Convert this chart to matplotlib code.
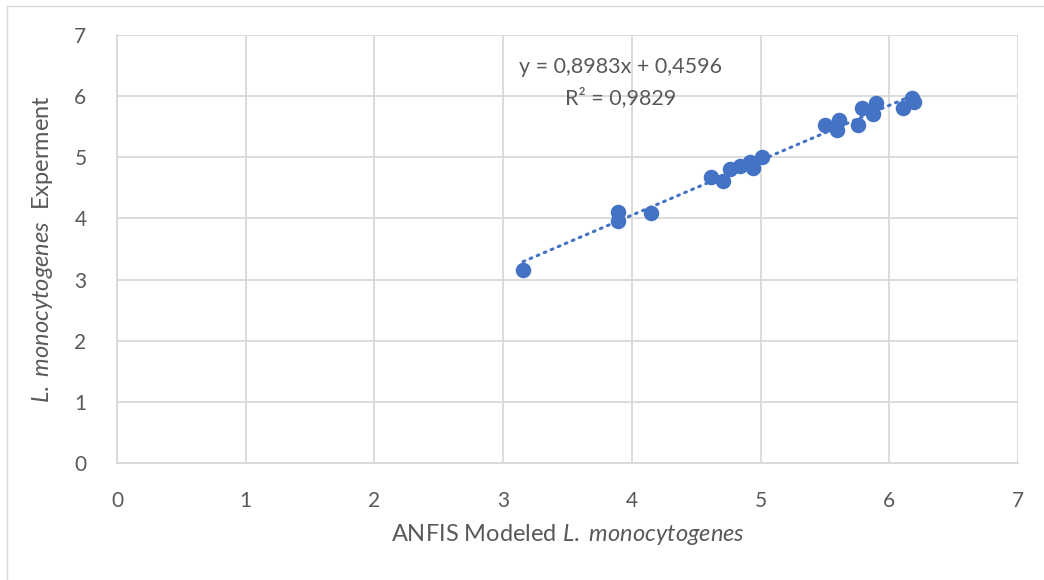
import matplotlib.pyplot as plt
from matplotlib.lines import Line2D
import numpy as np

# ANFIS modeled vs experimental log counts
anfis_modeled = [3.155, 3.89, 3.89, 4.15, 4.615, 4.71, 4.76, 4.84, 4.92, 4.94, 5.01,
                 5.50, 5.59, 5.61, 5.76, 5.79, 5.87, 5.90, 6.11, 6.18, 6.19]
experiment = [3.16, 4.11, 3.96, 4.09, 4.68, 4.62, 4.81, 4.86, 4.93, 4.83, 5.01,
              5.52, 5.45, 5.61, 5.52, 5.81, 5.71, 5.89, 5.81, 5.97, 5.91]

slope = 0.8983
intercept = 0.4596
r_squared = 0.9829

ticks = [0, 1, 2, 3, 4, 5, 6, 7]

text_col = '#595959'
grid_col = '#D9D9D9'
point_col = '#4472C4'

plt.rcParams['font.family'] = ['Lato', 'DejaVu Sans']
plt.rcParams['mathtext.fontset'] = 'custom'
plt.rcParams['mathtext.rm'] = 'Lato'
plt.rcParams['mathtext.it'] = 'Lato:italic'

fig = plt.figure(figsize=(10.44, 5.8), dpi=100)
ax = fig.add_axes([117 / 1044, 1 - 463 / 580, (1018 - 117) / 1044, (463 - 35) / 580])

# outer chart frame
fig.add_artist(Line2D([7 / 1044, 7 / 1044], [0, 1 - 6 / 580], color=grid_col, lw=1))
fig.add_artist(Line2D([7 / 1044, 1], [1 - 6 / 580, 1 - 6 / 580], color=grid_col, lw=1))

ax.scatter(anfis_modeled, experiment, s=125, color=point_col, zorder=3, linewidths=0)

# linear trendline over the data range
xs = np.array([min(anfis_modeled), max(anfis_modeled)])
ax.plot(xs, slope * xs + intercept, color=point_col, lw=2.2, linestyle=(0, (0.6, 1.9)),
        dash_capstyle='round', zorder=2)

eq = f'y = {slope:.4f}x + {intercept:.4f}'.replace('.', ',')
r2 = f'R² = {r_squared:.4f}'.replace('.', ',')
ax.text(3.91, 6.47, eq, ha='center', va='center', fontsize=15.5, color=text_col)
ax.text(3.91, 5.98, r2, ha='center', va='center', fontsize=15.5, color=text_col)

ax.set_xlim(0, 7)
ax.set_ylim(0, 7)
ax.set_xticks(ticks)
ax.set_yticks(ticks)
ax.grid(True, color=grid_col, lw=1.3)
ax.set_axisbelow(True)
for side in ['top', 'right']:
    ax.spines[side].set_visible(False)
for side in ['left', 'bottom']:
    ax.spines[side].set_color(grid_col)
    ax.spines[side].set_linewidth(1.3)
ax.tick_params(length=0, labelsize=15, colors=text_col)
ax.tick_params(axis='x', pad=20)
ax.tick_params(axis='y', pad=22)

ax.set_xlabel('ANFIS Modeled $\\mathit{L.\\ monocytogenes}$', fontsize=17,
              color=text_col, labelpad=8)
ax.set_ylabel('$\\mathit{L.\\ monocytogenes}$  Experment', fontsize=17,
              color=text_col, labelpad=14)

fig.savefig('out.png', dpi=100)
